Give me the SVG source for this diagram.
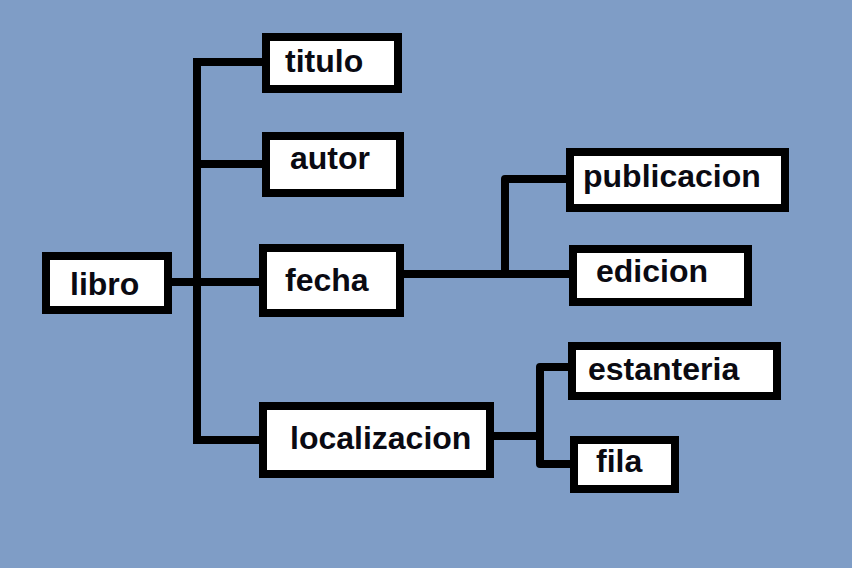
<svg xmlns="http://www.w3.org/2000/svg" width="852" height="568" viewBox="0 0 852 568">
<style>
.box{fill:#fff;stroke:#000;stroke-width:8}
.lbl{font-family:"Liberation Sans",Arial,sans-serif;font-weight:bold;font-size:32px;fill:#0a0a12}
.con{fill:none;stroke:#000;stroke-width:8;stroke-linejoin:round}
</style>
<rect width="852" height="568" fill="#7f9dc6"/>
<g id="connectors">
<path class="con" d="M262 62 H197 V440 H259" style="stroke-linejoin:miter"/>
<path class="con" d="M197 164 H262"/>
<path class="con" d="M172 282 H259"/>
<path class="con" d="M404 274 H569"/>
<path class="con" d="M505 274 V179 H566"/>
<path class="con" d="M494 436 H540"/>
<path class="con" d="M570 464 H540 V367 H568"/>
</g>
<g id="libro"><rect class="box" x="46" y="256" width="122" height="54"/><text class="lbl" x="70" y="295">libro</text></g>
<g id="titulo"><rect class="box" x="266" y="37" width="132" height="52"/><text class="lbl" x="285" y="72">titulo</text></g>
<g id="autor"><rect class="box" x="266" y="136" width="134" height="57"/><text class="lbl" x="290" y="169">autor</text></g>
<g id="fecha"><rect class="box" x="263" y="248" width="137" height="65"/><text class="lbl" x="285" y="291">fecha</text></g>
<g id="localizacion"><rect class="box" x="263" y="406" width="227" height="68"/><text class="lbl" x="290" y="449">localizacion</text></g>
<g id="publicacion"><rect class="box" x="570" y="152" width="215" height="56"/><text class="lbl" x="583" y="187">publicacion</text></g>
<g id="edicion"><rect class="box" x="573" y="249" width="175" height="53"/><text class="lbl" x="596" y="282">edicion</text></g>
<g id="estanteria"><rect class="box" x="572" y="346" width="205" height="50"/><text class="lbl" x="588" y="380">estanteria</text></g>
<g id="fila"><rect class="box" x="574" y="440" width="101" height="49"/><text class="lbl" x="596" y="472">fila</text></g>
</svg>
